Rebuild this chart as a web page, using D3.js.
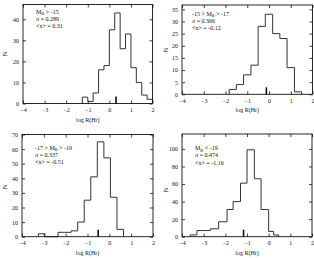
<!DOCTYPE html>
<html><head><meta charset="utf-8">
<script src="https://cdn.jsdelivr.net/npm/d3@7"></script>
<style>
body{margin:0;background:#fff}
svg{display:block}
text{font-family:"Liberation Serif","DejaVu Serif",serif;fill:#111}
</style>
</head><body><svg id="c" width="314" height="258"></svg>
<script>
// ---- data ----
const xTicks = [-4, -3, -2, -1, 0, 1, 2];

const p1Edges  = [-1.25,-1,-0.75,-0.5,-0.25,0,0.25,0.5,0.75,1,1.25,1.5,1.75,2];
const p1Counts = [3,1,5,16,18,35,43,26,33,17,10,4,2];
const p1YTicks = [0,10,20,30,40];
const p1Mean = 0.31;
const p1Lines = [["M","B"," > -15"],["σ = 0.289"],["<x> = 0.31"]];

const p2Edges  = [-1.83,-1.5,-1.17,-0.83,-0.5,-0.17,0.17,0.5,0.83,1.17,1.5];
const p2Counts = [2,4,8,12,28,33,25,23,11,1];
const p2YTicks = [0,5,10,15,20,25,30,35];
const p2Mean = -0.12;
const p2Lines = [["-15 > M","B"," > -17"],["σ = 0.366"],["<x> = -0.12"]];

const p3Edges  = [-3.25,-2.95,-2.65,-2.35,-2.05,-1.75,-1.45,-1.15,-0.85,-0.55,-0.25,0.05,0.35,0.65];
const p3Counts = [2,0,0,3,3,4,10,25,41,65,54,27,5];
const p3YTicks = [0,10,20,30,40,50,60,70];
const p3Mean = -0.51;
const p3Lines = [["-17 > M","B"," > -19"],["σ = 0.337"],["<x> = -0.51"]];

const p4Edges  = [-3.62,-3.31,-3.0,-2.69,-2.31,-1.92,-1.64,-1.3,-1.0,-0.66,-0.35,0.0,0.23,0.46];
const p4Counts = [2,7,7,9,17,31,40,61,99,66,31,6,2];
const p4YTicks = [0,20,40,60,80,100];
const p4Mean = -1.16;
const p4Lines = [["M","B"," < -19"],["σ = 0.474"],["<x> = -1.16"]];

const xTitle = "log R(Hr)";
const yTitle = "N";

// ---- layout ----
const panels = [
  {edges:p1Edges,counts:p1Counts,yt:p1YTicks,mean:p1Mean,lines:p1Lines,
   x0:23,x1:152.5,y0:4.5,y1:103.5,ymax:47,tx:36,ty:13.5,ny:54,nx:5},
  {edges:p2Edges,counts:p2Counts,yt:p2YTicks,mean:p2Mean,lines:p2Lines,
   x0:182,x1:312.5,y0:5,y1:94.3,ymax:36.8,tx:192,ty:15.5,ny:50,nx:166},
  {edges:p3Edges,counts:p3Counts,yt:p3YTicks,mean:p3Mean,lines:p3Lines,
   x0:22,x1:153,y0:134.5,y1:236.7,ymax:70,tx:35,ty:149.5,ny:187,nx:5},
  {edges:p4Edges,counts:p4Counts,yt:p4YTicks,mean:p4Mean,lines:p4Lines,
   x0:182,x1:312,y0:134,y1:236.7,ymax:117,tx:195,ty:150,ny:190,nx:166}
];

const svg = d3.select("#c");
const FS = 6;

panels.forEach(p => {
  const x = d3.scaleLinear().domain([-4,2]).range([p.x0,p.x1]);
  const y = d3.scaleLinear().domain([0,p.ymax]).range([p.y1,p.y0]);
  const g = svg.append("g");

  // histogram step path
  const pts = [[p.edges[0],0]];
  p.counts.forEach((c,i)=>{ pts.push([p.edges[i],c]); pts.push([p.edges[i+1],c]); });
  pts.push([p.edges[p.edges.length-1],0]);
  g.append("path")
    .attr("d", d3.line().x(d=>x(d[0])).y(d=>y(d[1]))(pts))
    .attr("fill","none").attr("stroke","#333").attr("stroke-width",1);

  // axes (inward ticks)
  const styleAxis = sel => {
    sel.select(".domain").remove();
    sel.selectAll(".tick line").attr("stroke","#111").attr("stroke-width",0.8);
    sel.selectAll(".tick text").attr("font-size",FS).attr("font-family","Liberation Serif").attr("fill","#111");
  };
  g.append("g").attr("transform",`translate(0,${p.y1})`)
    .call(d3.axisBottom(x).tickValues(xTicks).tickSize(-3).tickPadding(4).tickFormat(d3.format("d")))
    .call(styleAxis);
  g.append("g").attr("transform",`translate(0,${p.y0})`)
    .call(d3.axisTop(x).tickValues(xTicks).tickSize(-3).tickFormat(""))
    .call(styleAxis);
  g.append("g").attr("transform",`translate(${p.x0},0)`)
    .call(d3.axisLeft(y).tickValues(p.yt).tickSize(-3).tickPadding(4).tickFormat(d3.format("d")))
    .call(styleAxis);
  g.append("g").attr("transform",`translate(${p.x1},0)`)
    .call(d3.axisRight(y).tickValues(p.yt).tickSize(-3).tickFormat(""))
    .call(styleAxis);

  // frame
  g.append("rect").attr("x",p.x0).attr("y",p.y0)
    .attr("width",p.x1-p.x0).attr("height",p.y1-p.y0)
    .attr("fill","none").attr("stroke","#111").attr("stroke-width",0.9);

  // mean marker
  g.append("line").attr("x1",x(p.mean)).attr("x2",x(p.mean))
    .attr("y1",p.y1).attr("y2",p.y1-7)
    .attr("stroke","#000").attr("stroke-width",1.5);

  // annotation
  p.lines.forEach((ln,i)=>{
    const t = g.append("text").attr("x",p.tx).attr("y",p.ty+i*7.3).attr("font-size",FS);
    if (ln.length===3){
      t.append("tspan").text(ln[0]);
      t.append("tspan").attr("font-size",4.5).attr("dy",1.5).text(ln[1]);
      t.append("tspan").attr("dy",-1.5).text(ln[2]);
    } else t.text(ln[0]);
  });

  // titles
  g.append("text").attr("x",(p.x0+p.x1)/2).attr("y",p.y1+18)
    .attr("text-anchor","middle").attr("font-size",FS).text(xTitle);
  g.append("text").attr("transform",`translate(${p.nx+2},${p.ny}) rotate(-90)`)
    .attr("text-anchor","middle").attr("font-size",FS+1).text(yTitle);
});
</script></body></html>
